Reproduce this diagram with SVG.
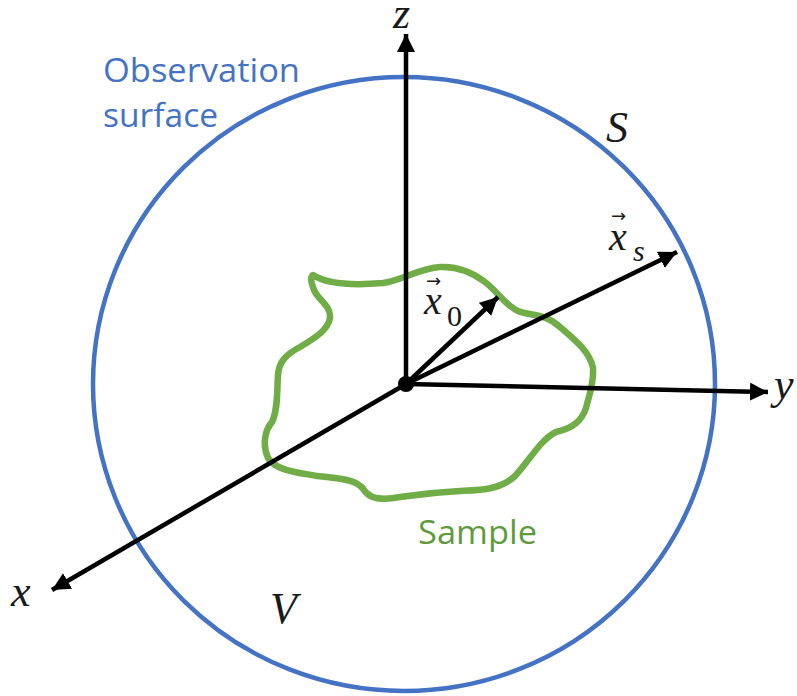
<svg xmlns="http://www.w3.org/2000/svg" width="797" height="696" viewBox="0 0 797 696">
<style>
.axis{stroke:#000;stroke-width:4.5;fill:none}
.math{font-family:"Liberation Serif","DejaVu Serif",serif;font-style:italic;fill:#1a1a1a}
.up{font-style:normal}
.vec{font-family:"DejaVu Sans",sans-serif;font-style:normal;fill:#1a1a1a}
.blue{font-family:"Open Sans","Liberation Sans",sans-serif;fill:#4472C4}
.green{font-family:"Open Sans","Liberation Sans",sans-serif;fill:#5E9B3C}
</style>
<defs>
<marker id="ah" markerUnits="userSpaceOnUse" markerWidth="20" markerHeight="18" refX="18" refY="9" orient="auto">
<path d="M0,0 L18,9 L0,18 Z" fill="#000"/>
</marker>
</defs>
<rect width="797" height="696" fill="#fff"/>
<g id="surface">
<ellipse cx="404" cy="384" rx="311" ry="307" fill="none" stroke="#4472C4" stroke-width="4.5"/>
<text class="blue" x="103" y="82" font-size="32" textLength="197" lengthAdjust="spacingAndGlyphs">Observation</text>
<text class="blue" x="103" y="127" font-size="32" textLength="115" lengthAdjust="spacingAndGlyphs">surface</text>
<text class="math" x="606" y="142" font-size="44">S</text>
<text class="math" x="270" y="623" font-size="44">V</text>
</g>
<g id="sample">
<path d="M313,275 C330,286 360,285 383,283 C400,281 420,268 440,267 C458,266 472,272 485,282 C498,292 505,305 518,311 C530,316 545,313 560,327 C575,340 590,352 593,368 C594,385 589,395 586,408 C582,420 574,428 556,432 C540,440 530,460 515,476 C500,490 480,490 460,491 C440,492 420,494 400,497 C385,500 370,500 364,490 C358,480 340,478 317,476 C295,472 275,470 268,458 C262,445 265,430 272,422 C278,410 277,390 278,375 C279,362 285,355 300,347 C315,338 328,330 330,318 C331,305 318,300 314,290 C311,282 310,277 313,275 Z" fill="none" stroke="#70AD47" stroke-width="6.5" stroke-linejoin="round"/>
<text class="green" x="418" y="544" font-size="33" textLength="119" lengthAdjust="spacingAndGlyphs">Sample</text>
</g>
<g id="connectors">
<line class="axis" x1="406" y1="384" x2="406" y2="34" marker-end="url(#ah)"/>
<line class="axis" x1="406" y1="384" x2="768" y2="392" marker-end="url(#ah)"/>
<line class="axis" x1="406" y1="384" x2="52" y2="590" marker-end="url(#ah)"/>
<line class="axis" x1="406" y1="384" x2="677" y2="252" marker-end="url(#ah)"/>
<line class="axis" x1="406" y1="384" x2="498" y2="297" marker-end="url(#ah)"/>
<circle cx="406" cy="384" r="8" fill="#000"/>
</g>
<g id="labels">
<text class="math" x="393" y="28" font-size="44">z</text>
<text class="math" x="774" y="399" font-size="44">y</text>
<text class="math" x="11" y="606" font-size="44">x</text>
<g id="xs">
<text class="math" x="609" y="250" font-size="40">x</text>
<text class="vec" x="611" y="222" font-size="18">→</text>
<text class="math" x="633" y="261" font-size="30">s</text>
</g>
<g id="x0">
<text class="math" x="424" y="314" font-size="40">x</text>
<text class="vec" x="426" y="287" font-size="18">→</text>
<text class="math up" x="447" y="326" font-size="30">0</text>
</g>
</g>
</svg>
